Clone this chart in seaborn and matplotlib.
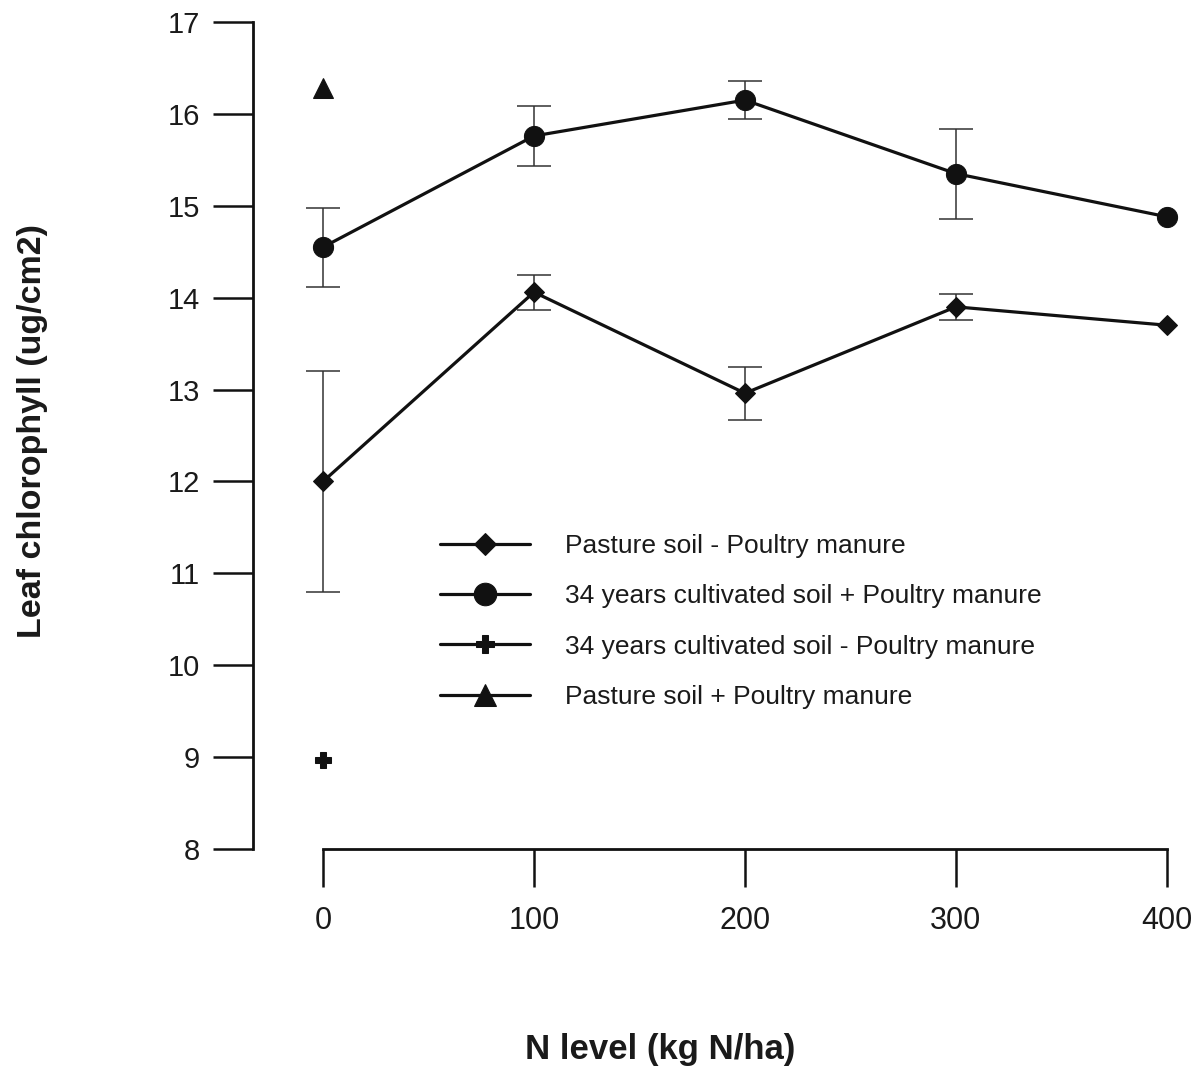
import matplotlib
matplotlib.use("Agg")
import matplotlib.pyplot as plt
import numpy as np
import pandas as pd
import seaborn as sns

# N application levels (kg N/ha)
n_levels = [0, 100, 200, 300, 400]

# Leaf chlorophyll (ug/cm2) means and standard errors
pasture_minus = [12.0, 14.06, 12.96, 13.90, 13.70]
pasture_minus_err = [1.20, 0.19, 0.29, 0.14, np.nan]

cultivated_plus = [14.55, 15.76, 16.15, 15.35, 14.88]
cultivated_plus_err = [0.43, 0.33, 0.21, 0.49, np.nan]

# Single control observations at N = 0
cultivated_minus_x = [0]
cultivated_minus = [8.97]
pasture_plus_x = [0]
pasture_plus = [16.28]

labels = [
    "Pasture soil - Poultry manure",
    "34 years cultivated soil + Poultry manure",
    "34 years cultivated soil - Poultry manure",
    "Pasture soil + Poultry manure",
]

sns.set_style("ticks")
plt.rcParams["font.family"] = ["Liberation Sans", "DejaVu Sans"]

ink = "#111111"
fig = plt.figure(figsize=(11.99, 10.67), dpi=100)
ax = fig.add_axes([253 / 1199, 1 - 849 / 1067, 935 / 1199, 827 / 1067])

df_a = pd.DataFrame({"N": n_levels, "chl": pasture_minus})
df_b = pd.DataFrame({"N": n_levels, "chl": cultivated_plus})
df_c = pd.DataFrame({"N": cultivated_minus_x, "chl": cultivated_minus})
df_d = pd.DataFrame({"N": pasture_plus_x, "chl": pasture_plus})

# error bars first so the markers sit on top
for y, e in [(pasture_minus, pasture_minus_err), (cultivated_plus, cultivated_plus_err)]:
    ax.errorbar(n_levels, y, yerr=e, fmt="none", ecolor="#333333",
                elinewidth=1.1, capsize=12.5, capthick=1.1, zorder=2,
                clip_on=False)

sns.lineplot(data=df_a, x="N", y="chl", ax=ax, color=ink, linewidth=2.3,
             marker="D", markersize=10, markeredgecolor=ink, label=labels[0],
             zorder=3, clip_on=False)
sns.lineplot(data=df_b, x="N", y="chl", ax=ax, color=ink, linewidth=2.3,
             marker="o", markersize=14.5, markeredgecolor=ink, label=labels[1],
             zorder=3, clip_on=False)
sns.lineplot(data=df_c, x="N", y="chl", ax=ax, color=ink, linewidth=2.3,
             marker="P", markersize=12, markeredgecolor=ink, label=labels[2],
             zorder=3, clip_on=False)
sns.lineplot(data=df_d, x="N", y="chl", ax=ax, color=ink, linewidth=2.3,
             marker="^", markersize=14, markeredgecolor=ink, label=labels[3],
             zorder=3, clip_on=False)

ax.set_xlim(-33.2, 410)
ax.set_ylim(8, 17)
ax.set_xticks(n_levels)
ax.set_yticks(range(8, 18))

sns.despine(ax=ax)
ax.spines["bottom"].set_bounds(0, 400)
for s in ("left", "bottom"):
    ax.spines[s].set_linewidth(2.0)
    ax.spines[s].set_color(ink)

ax.tick_params(axis="y", direction="out", length=29, width=1.8, color=ink,
               labelsize=21, labelcolor="#1a1a1a", pad=9)
ax.tick_params(axis="x", direction="out", length=27, width=1.8, color=ink,
               labelsize=22, labelcolor="#1a1a1a", pad=14)

ax.set_xlabel("N level (kg N/ha)", fontsize=25, fontweight="bold", color="#1a1a1a")
ax.set_ylabel("Leaf chlorophyll (ug/cm2)", fontsize=24.5, fontweight="bold", color="#1a1a1a")
ax.xaxis.set_label_coords(0.436, -0.223)
ax.yaxis.set_label_coords(-0.2195, 0.506)

leg = ax.legend(loc="upper left", bbox_to_anchor=(0.2, 0.381), frameon=False,
                fontsize=19, handlelength=3.4, handletextpad=1.33,
                labelspacing=1.0, borderpad=0, borderaxespad=0,
                markerscale=1.12)
for t in leg.get_texts():
    t.set_color("#1a1a1a")

fig.savefig("out.png", dpi=100, facecolor="white")
